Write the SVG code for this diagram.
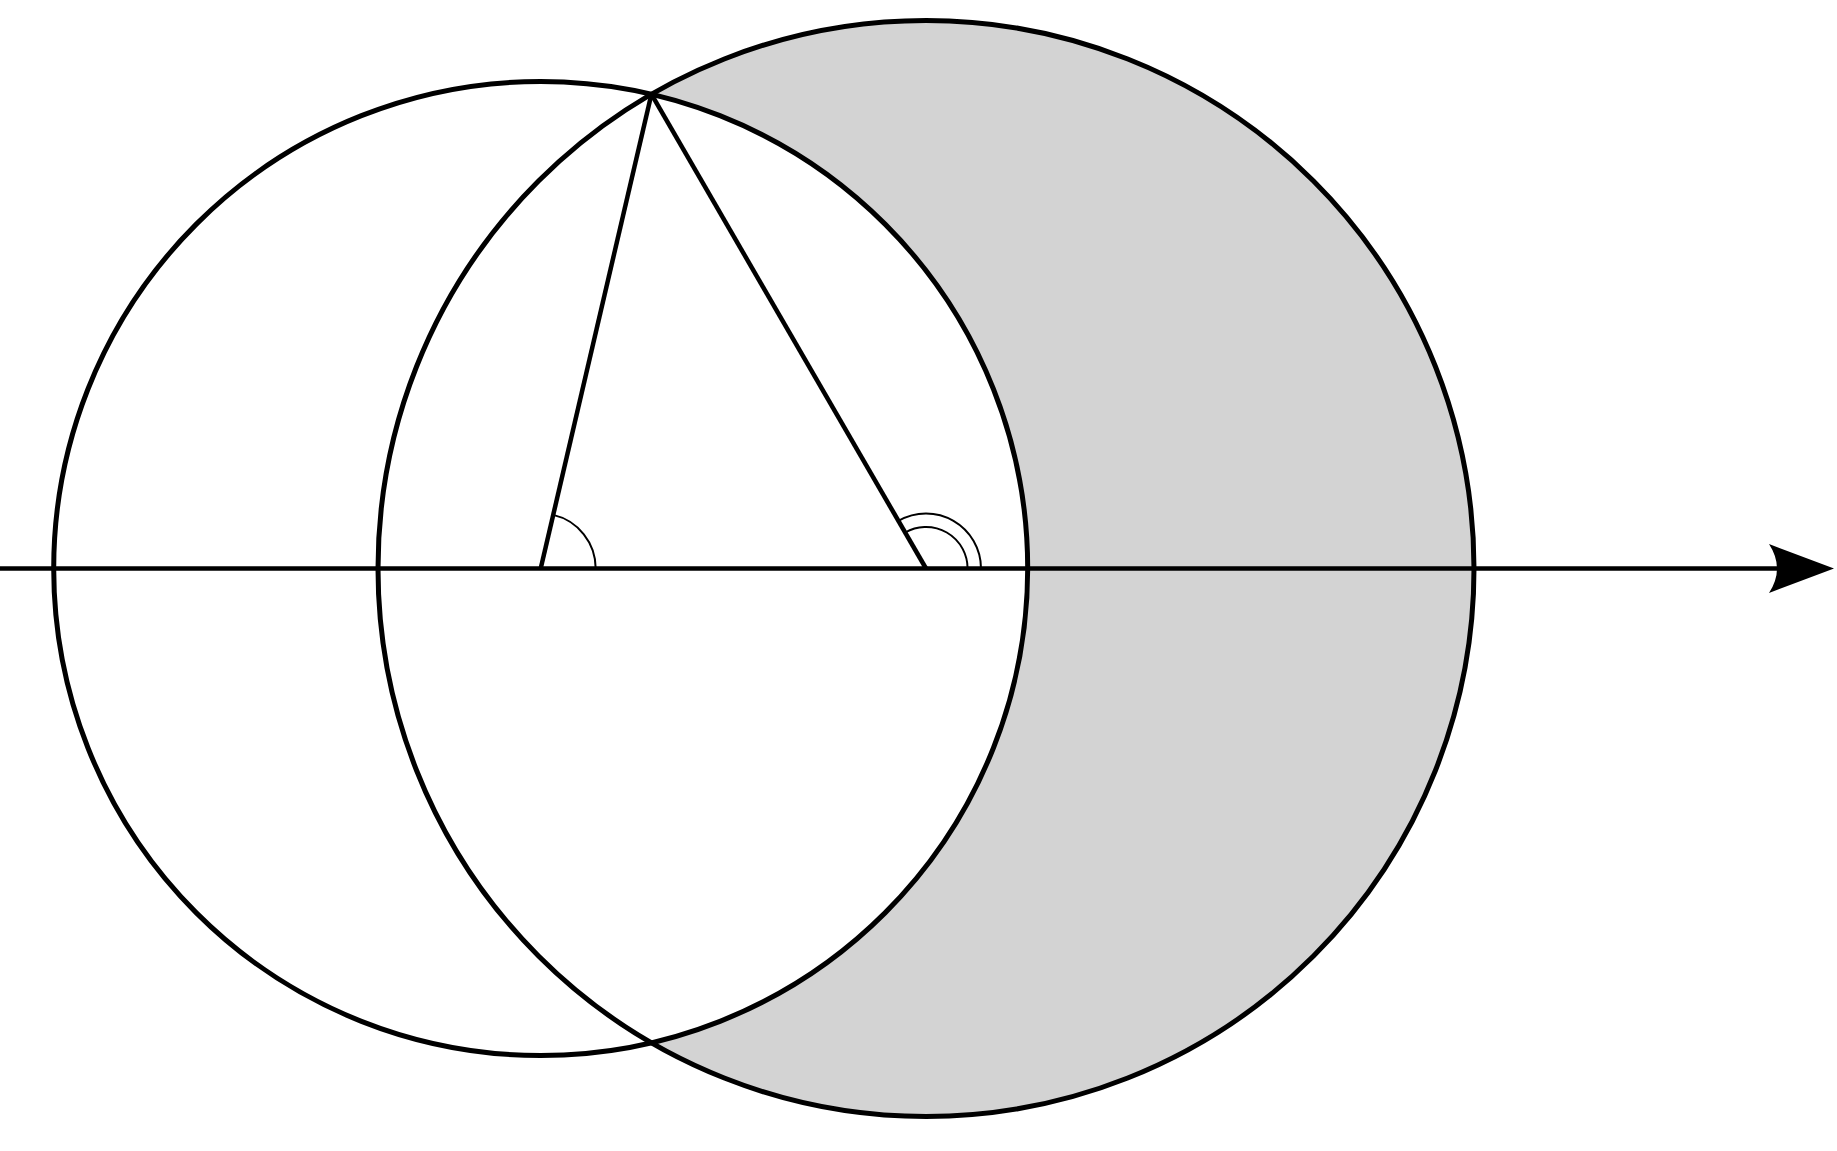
<svg xmlns="http://www.w3.org/2000/svg" width="1837" height="1151" viewBox="0 0 1837 1151">
<style>
.thick{fill:none;stroke:#000;stroke-width:5}
.line{fill:none;stroke:#000;stroke-width:4.5}
.thin{fill:none;stroke:#000;stroke-width:2}
</style>
<rect width="1837" height="1151" fill="#fff"/>
<g id="shade">
<path d="M651.4 94.2 A548 548 0 1 1 651.4 1042.8 A487 487 0 0 0 651.4 94.2 Z" fill="#d3d3d3"/>
</g>
<g id="circle-left"><circle class="thick" cx="540.7" cy="568.5" r="487"/></g>
<g id="circle-right"><circle class="thick" cx="926" cy="568.5" r="548"/></g>
<g id="connectors">
<line class="line" x1="0" y1="568.5" x2="1778" y2="568.5"/>
<path d="M1834 568.5 L1769 544 Q1785 568.5 1769 593 Z" fill="#000"/>
<line class="line" x1="540.7" y1="568.5" x2="651.4" y2="94.2"/>
<line class="line" x1="926" y1="568.5" x2="651.4" y2="94.2"/>
</g>
<g id="angles">
<path class="thin" d="M553.2 514.9 A55 55 0 0 1 595.7 568.5"/>
<path class="thin" d="M905.2 532.5 A41.6 41.6 0 0 1 967.6 568.5"/>
<path class="thin" d="M898.4 520.9 A55 55 0 0 1 981 568.5"/>
</g>
</svg>
